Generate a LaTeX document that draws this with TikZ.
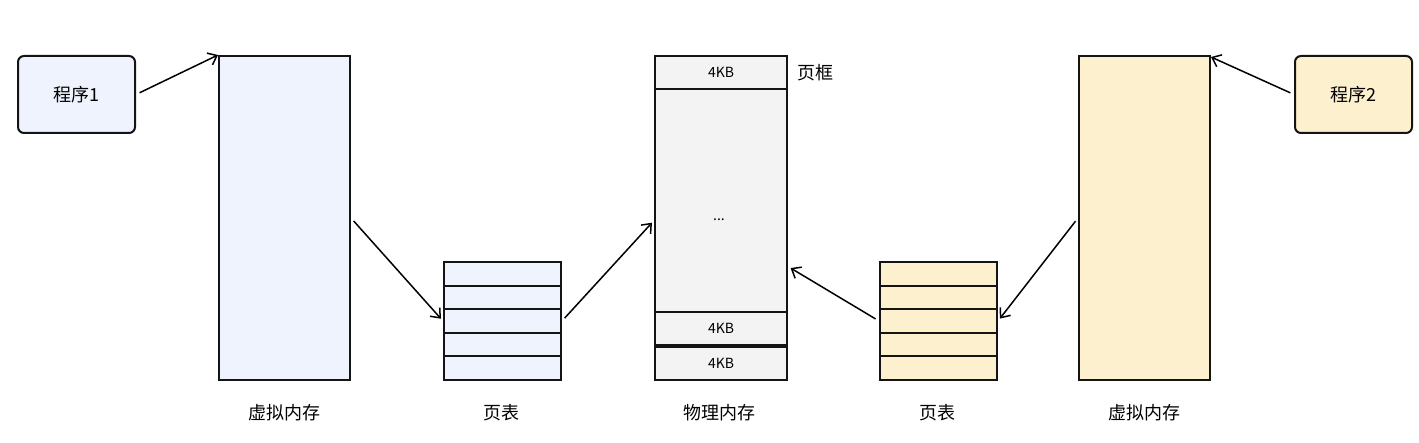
\documentclass[tikz,border=0pt]{standalone}
\usepackage{fontspec}
\setmainfont{Noto Sans CJK SC}
\usetikzlibrary{arrows.meta}

\definecolor{memblue}{RGB}{238,243,253}
\definecolor{memyellow}{RGB}{253,240,207}
\definecolor{memgray}{RGB}{243,243,243}
\definecolor{edge}{RGB}{20,20,20}

\tikzset{
  prog/.style={draw=edge, rounded corners=3pt, line width=1pt, inner sep=0pt, anchor=north west,
    minimum width=58.5pt, minimum height=38.5pt, font=\fontsize{9}{11}\selectfont},
  blk/.style={draw=edge, line width=1pt, inner sep=0pt, anchor=north west},
  vmem/.style={blk, minimum width=65.5pt, minimum height=162pt},
  row/.style={blk, minimum width=58.5pt, minimum height=11.8pt},
  frame/.style={blk, fill=memgray, minimum width=66pt, font=\fontsize{7}{8}\selectfont},
  lbl/.style={font=\fontsize{9}{11}\selectfont},
  arr/.style={-{Straight Barb[length=4pt,width=6.5pt]}, line width=0.75pt},
}

\begin{document}
\begin{tikzpicture}[x=0.5pt, y=-0.5pt]
  \useasboundingbox (0,0) rectangle (1419,443);

  % programs
  \node[prog, fill=memblue] (prog1) at (17,55) {程序1};
  \node[prog, fill=memyellow] (prog2) at (1294,55) {程序2};

  % virtual memory
  \node[vmem, fill=memblue] (vm1) at (218,55) {};
  \node[vmem, fill=memyellow] (vm2) at (1078,55) {};

  % page tables
  \foreach \i in {1,...,5} {
    \node[row, fill=memblue] (pta\i) at (443,{261+(\i-1)*23.6}) {};
    \node[row, fill=memyellow] (ptb\i) at (879,{261+(\i-1)*23.6}) {};
  }

  % physical memory
  \node[frame, minimum height=16.5pt] (pm1) at (654,55) {4KB};
  \node[frame, minimum height=111.5pt] (pm2) at (654,88) {};
  \node[frame, minimum height=16.5pt] (pm3) at (654,311) {4KB};
  \node[frame, minimum height=16.5pt] (pm4) at (654,346) {4KB};
  \node[font=\fontsize{7}{8}\selectfont] (dots) at (719,220) {...};
  \node[lbl] (framelbl) at (815,73) {页框};

  % captions
  \node[lbl] (cvm1) at (284,413) {虚拟内存};
  \node[lbl] (cpta) at (501,413) {页表};
  \node[lbl] (cpm) at (719,413) {物理内存};
  \node[lbl] (cptb) at (937,413) {页表};
  \node[lbl] (cvm2) at (1144,413) {虚拟内存};

  % arrows
  \draw[arr, shorten <=2pt] (prog1.east) -- (vm1.north west);
  \draw[arr, shorten <=2pt, shorten >=1.5pt] (vm1.east) -- (pta3.west);
  \draw[arr, shorten <=2pt, shorten >=1.5pt] (pta3.east) -- ([yshift=-10pt]pm2.west);
  \draw[arr, shorten <=2pt, shorten >=1.5pt] (ptb3.west) -- ([yshift=-33pt]pm2.east);
  \draw[arr, shorten <=2pt, shorten >=1.5pt] (vm2.west) -- (ptb3.east);
  \draw[arr, shorten <=2pt] (prog2.west) -- ([yshift=-1pt]vm2.north east);
\end{tikzpicture}
\end{document}
